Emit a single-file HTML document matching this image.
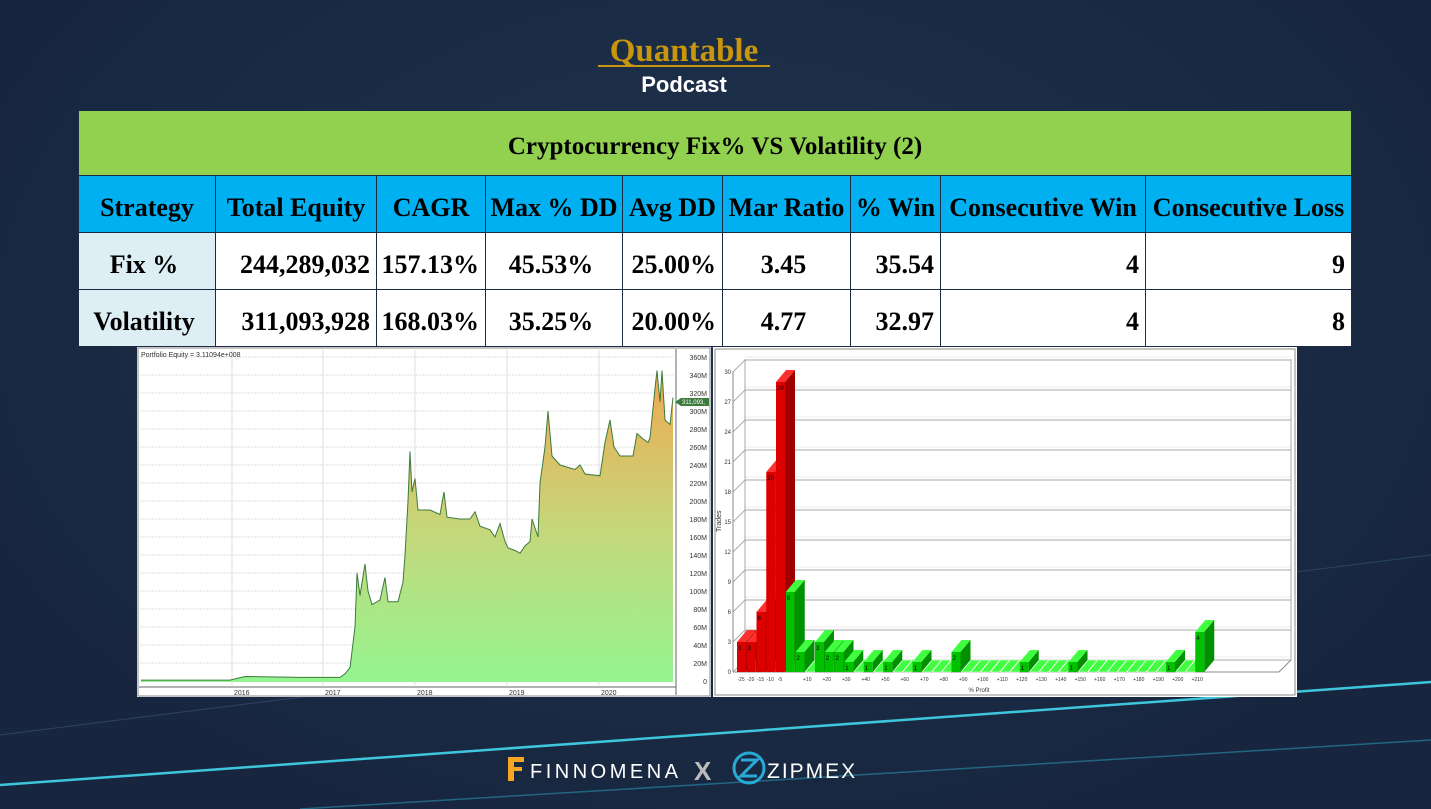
<!DOCTYPE html>
<html><head><meta charset="utf-8"><style>
*{margin:0;padding:0;box-sizing:border-box}
body{width:1431px;height:809px;overflow:hidden;background:#1a2b45;font-family:"Liberation Sans",sans-serif;position:relative}
.bg{position:absolute;inset:0;background:radial-gradient(ellipse at 50% 40%,#20334f 0%,#17263e 80%)}
table{position:absolute;left:78px;top:110px;width:1274px;border-collapse:collapse;font-family:"Liberation Serif",serif;font-weight:bold;font-size:26px}
td{border:1px solid #1a2b45;text-align:center;color:#000;padding-top:7px}
.t{background:#92d050;height:65px;font-size:25px}
.h td{background:#00b0f0;height:57px}
.r td{background:#fff;height:57px;text-align:right;padding-right:6px}
.r td.c{text-align:center}
.r td:first-child{background:#deeef5;text-align:center}
</style></head><body>
<div class="bg"></div>
<svg width="1431" height="809" style="position:absolute;left:0;top:0">
<line x1="0" y1="785" x2="1431" y2="682" stroke="#3ec6dc" stroke-width="2.5"/>
<line x1="300" y1="809" x2="1431" y2="740" stroke="#2a8fb0" stroke-width="1.5" opacity=".6"/>
<line x1="0" y1="735" x2="1431" y2="555" stroke="#3a5878" stroke-width="1" opacity=".6"/>
<text x="684" y="61" text-anchor="middle" font-family="Liberation Serif" font-weight="bold" font-size="33" fill="#c8960c">Quantable</text>
<line x1="598" y1="66" x2="770" y2="66" stroke="#c8960c" stroke-width="2"/>
<text x="684" y="92" text-anchor="middle" font-weight="bold" font-size="22" fill="#fff">Podcast</text>
<path d="M508 757h16v5h-10v5h8v4h-8v10h-6z" fill="#f5a623"/>
<text x="530" y="778" font-size="20" fill="#fff" letter-spacing="3.5">FINNOMENA</text>
<text x="694" y="780" font-weight="bold" font-size="26" fill="#bbb">X</text>
<circle cx="749" cy="768" r="15" fill="none" stroke="#29a9d6" stroke-width="3"/>
<path d="M741 760h16l-16 16h16" fill="none" stroke="#29a9d6" stroke-width="3"/>
<text x="767" y="778" font-size="21" fill="#fff" letter-spacing="2">ZIPMEX</text>
</svg>
<table>
<tr><td class="t" colspan="9">Cryptocurrency Fix% VS Volatility (2)</td></tr>
<tr class="h"><td style="width:137px">Strategy</td><td style="width:161px">Total Equity</td><td style="width:109px">CAGR</td><td style="width:137px">Max % DD</td><td style="width:100px">Avg DD</td><td style="width:128px">Mar Ratio</td><td style="width:90px">% Win</td><td style="width:205px">Consecutive Win</td><td>Consecutive Loss</td></tr>
<tr class="r"><td>Fix %</td><td>244,289,032</td><td>157.13%</td><td class="c">45.53%</td><td>25.00%</td><td class="c">3.45</td><td>35.54</td><td>4</td><td>9</td></tr>
<tr class="r"><td>Volatility</td><td>311,093,928</td><td>168.03%</td><td class="c">35.25%</td><td>20.00%</td><td class="c">4.77</td><td>32.97</td><td>4</td><td>8</td></tr>
</table>
<svg id="eq" width="574" height="350" style="position:absolute;left:137px;top:347px;background:#fff"></svg>
<svg id="hi" width="584" height="350" style="position:absolute;left:713px;top:347px;background:#fff"></svg>
<script>
var ns="http://www.w3.org/2000/svg";
function el(p,t,a,txt){var e=document.createElementNS(ns,t);for(var k in a)e.setAttribute(k,a[k]);if(txt!=null)e.textContent=txt;p.appendChild(e);return e;}
var eq=document.getElementById('eq');
var d=el(eq,'defs',{});var g=el(d,'linearGradient',{id:'g',x1:0,y1:0,x2:0,y2:1});
el(g,'stop',{offset:'0','stop-color':'#f0a850'});el(g,'stop',{offset:'.5','stop-color':'#c6d67a'});el(g,'stop',{offset:'1','stop-color':'#94f590'});
el(eq,'rect',{x:1,y:1,width:572,height:348,fill:'none',stroke:'#888'});
el(eq,'line',{x1:539,y1:2,x2:539,y2:348,stroke:'#666'});
el(eq,'line',{x1:2,y1:340,x2:539,y2:340,stroke:'#666'});
for(var v=0;v<=360;v+=20){var y=334-v*0.9;el(eq,'line',{x1:3,y1:y,x2:537,y2:y,stroke:'#ddd','stroke-dasharray':'2,1'});el(eq,'text',{x:570,y:y+3,'font-size':7,'text-anchor':'end',fill:'#333'},v?v+'M':'0');}
[[95,'2016'],[186,'2017'],[278,'2018'],[370,'2019'],[462,'2020']].forEach(function(a){el(eq,'line',{x1:a[0],y1:3,x2:a[0],y2:338,stroke:'#ddd'});el(eq,'text',{x:a[0]+2,y:348,'font-size':7,fill:'#333'},a[1]);});
var P=[[141,1],[230,1],[245,5],[300,4],[340,4],[345,8],[350,15],[355,60],[357,120],[360,95],[365,130],[368,100],[372,85],[380,90],[385,115],[388,88],[398,88],[403,110],[405,140],[408,200],[410,255],[412,210],[415,225],[418,190],[430,190],[440,185],[444,210],[447,182],[460,180],[470,180],[475,188],[480,172],[490,168],[495,160],[500,175],[505,155],[508,148],[515,145],[520,142],[525,150],[530,155],[532,180],[535,170],[538,160],[540,220],[545,260],[548,300],[552,250],[560,240],[575,235],[580,240],[585,230],[600,228],[605,265],[610,290],[614,260],[620,250],[633,250],[637,275],[642,270],[648,265],[650,270],[655,325],[657,345],[660,310],[662,345],[665,290],[670,285],[673,315]];
var s=P.map(function(p){return (p[0]-137)+','+(334-p[1]*0.9)}).join(' ');
el(eq,'polygon',{points:'4,335 '+s+' 536,335',fill:'url(#g)'});
el(eq,'polyline',{points:s,fill:'none',stroke:'#3c7a3c','stroke-width':1});
el(eq,'polygon',{points:'538,55 544,51 572,51 572,59 544,59',fill:'#3d7a3d'});
el(eq,'text',{x:545,y:57,'font-size':6,fill:'#fff'},'311,093,');
el(eq,'text',{x:4,y:10,'font-size':7,fill:'#333'},'Portfolio Equity = 3.11094e+008');
var hi=document.getElementById('hi');
el(hi,'rect',{x:2,y:2,width:580,height:346,fill:'none',stroke:'#888'});
var y0=325;
for(var t=0;t<=30;t+=3){var y=y0-t*10;el(hi,'line',{x1:20,y1:y,x2:32,y2:y-12,stroke:'#aaa'});el(hi,'line',{x1:32,y1:y-12,x2:578,y2:y-12,stroke:'#aaa'});el(hi,'line',{x1:32,y1:y-15,x2:578,y2:y-15,stroke:'#eee'});el(hi,'text',{x:18,y:y+2,'font-size':6,'text-anchor':'end',fill:'#333'},t);}
el(hi,'line',{x1:20,y1:y0,x2:20,y2:24,stroke:'#888'});el(hi,'line',{x1:32,y1:y0-12,x2:32,y2:12,stroke:'#aaa'});el(hi,'line',{x1:578,y1:y0-12,x2:578,y2:12,stroke:'#aaa'});
el(hi,'line',{x1:20,y1:y0,x2:566,y2:y0,stroke:'#888'});el(hi,'line',{x1:566,y1:y0,x2:578,y2:y0-12,stroke:'#888'});
el(hi,'text',{x:8,y:185,'font-size':7,fill:'#333',transform:'rotate(-90 8 185)'},'Trades');
el(hi,'text',{x:266,y:345,'font-size':6,fill:'#333','text-anchor':'middle'},'% Profit');
var vals={0:3,1:3,2:6,3:20,4:29,5:8,6:2,8:3,9:2,10:2,11:1,13:1,15:1,18:1,22:2,29:1,34:1,44:1,47:4};
var labs=['-25','-20','-15','-10','-5'];
for(var i=0;i<48;i++){var x=24+i*9.75,v=vals[i]||0,h=v*10,red=i<5;
var fc=red?'#dd0000':'#00c000',tc=red?'#ff3030':'#40ff40',sc=red?'#a00000':'#009000';
if(v==0){el(hi,'polygon',{points:(x)+','+y0+' '+(x+10)+','+(y0-12)+' '+(x+19)+','+(y0-12)+' '+(x+9)+','+y0,fill:'#40ff40',stroke:'#fff','stroke-width':.5});continue;}
el(hi,'rect',{x:x,y:y0-h,width:9,height:h,fill:fc});
el(hi,'polygon',{points:x+','+(y0-h)+' '+(x+10)+','+(y0-h-12)+' '+(x+19)+','+(y0-h-12)+' '+(x+9)+','+(y0-h),fill:tc});
el(hi,'polygon',{points:(x+9)+','+(y0-h)+' '+(x+19)+','+(y0-h-12)+' '+(x+19)+','+(y0-12)+' '+(x+9)+','+y0,fill:sc});
el(hi,'text',{x:x+1,y:y0-h+8,'font-size':6,fill:'#000'},v);}
for(var i=0;i<5;i++)el(hi,'text',{x:28+i*9.75,y:334,'font-size':5,fill:'#333','text-anchor':'middle'},labs[i]);
for(var k=10;k<=210;k+=10){var i=(k+25)/5;el(hi,'text',{x:26+i*9.75,y:334,'font-size':5,fill:'#333','text-anchor':'middle'},'+'+k);}
</script>
</body></html>
